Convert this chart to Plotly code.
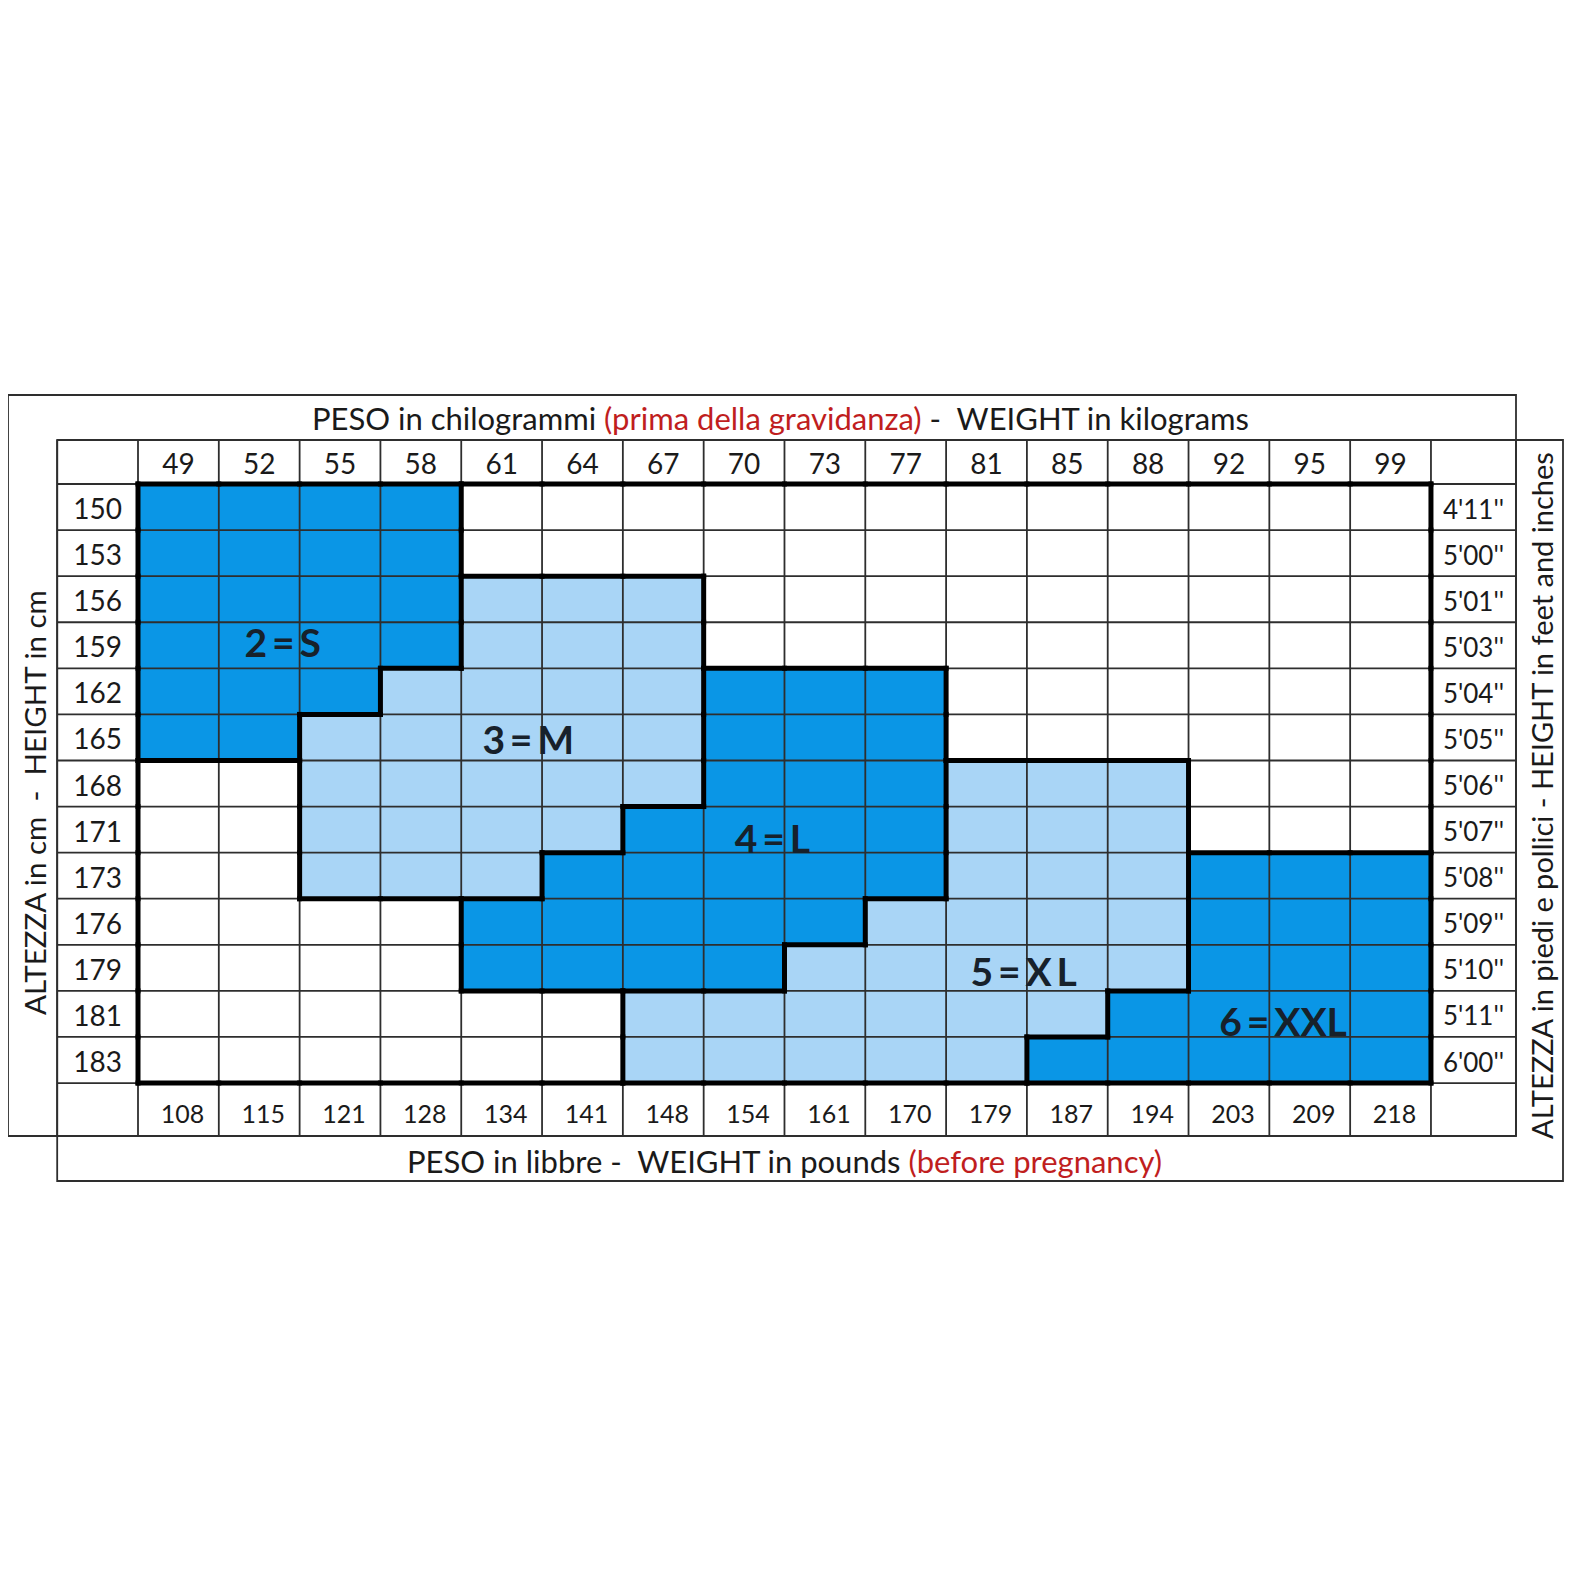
import plotly.graph_objects as go

# table data
peso_kg = [49, 52, 55, 58, 61, 64, 67, 70, 73, 77, 81, 85, 88, 92, 95, 99]
peso_lb = [108, 115, 121, 128, 134, 141, 148, 154, 161, 170, 179, 187, 194, 203, 209, 218]
altezza_cm = [150, 153, 156, 159, 162, 165, 168, 171, 173, 176, 179, 181, 183]
altezza_ft = ["4'11''", "5'00''", "5'01''", "5'03''", "5'04''", "5'05''", "5'06''",
              "5'07''", "5'08''", "5'09''", "5'10''", "5'11''", "6'00''"]

# size per cell (0 = none, 2=S, 3=M, 4=L, 5=XL, 6=XXL), one row per height
taglie = [
    [2, 2, 2, 2, 0, 0, 0, 0, 0, 0, 0, 0, 0, 0, 0, 0],
    [2, 2, 2, 2, 0, 0, 0, 0, 0, 0, 0, 0, 0, 0, 0, 0],
    [2, 2, 2, 2, 3, 3, 3, 0, 0, 0, 0, 0, 0, 0, 0, 0],
    [2, 2, 2, 2, 3, 3, 3, 0, 0, 0, 0, 0, 0, 0, 0, 0],
    [2, 2, 2, 3, 3, 3, 3, 4, 4, 4, 0, 0, 0, 0, 0, 0],
    [2, 2, 3, 3, 3, 3, 3, 4, 4, 4, 0, 0, 0, 0, 0, 0],
    [0, 0, 3, 3, 3, 3, 3, 4, 4, 4, 5, 5, 5, 0, 0, 0],
    [0, 0, 3, 3, 3, 3, 4, 4, 4, 4, 5, 5, 5, 0, 0, 0],
    [0, 0, 3, 3, 3, 4, 4, 4, 4, 4, 5, 5, 5, 6, 6, 6],
    [0, 0, 0, 0, 4, 4, 4, 4, 4, 5, 5, 5, 5, 6, 6, 6],
    [0, 0, 0, 0, 4, 4, 4, 4, 5, 5, 5, 5, 5, 6, 6, 6],
    [0, 0, 0, 0, 0, 0, 5, 5, 5, 5, 5, 5, 6, 6, 6, 6],
    [0, 0, 0, 0, 0, 0, 5, 5, 5, 5, 5, 6, 6, 6, 6, 6],
]
nomi_taglie = {2: "2\u2009=\u2009S", 3: "3\u2009=\u2009M", 4: "4\u2009=\u2009L",
               5: "5\u2009=\u2009X\u2009L", 6: "6\u2009=\u2009XXL"}
# where the size name sits (column, row in cell units)
pos_taglie = {2: (1.79, 3.46), 3: (4.83, 5.56), 4: (7.85, 7.7), 5: (10.96, 10.59), 6: (14.17, 11.68)}

DARK = '#0a96e6'
LIGHT = '#a9d5f6'
INK = '#1a1a1a'
RED = '#c01e1e'
FONT = 'Lato'

ncol = len(peso_kg)
nrow = len(altezza_cm)

# pixel mapping of the grid (screen px, page has an 8px body margin)
OFF = 8
W = H = 1575 - 2 * OFF
px_x0, cell_w = 138, 80.81
px_y0, cell_h = 484, 46.08
xr = [(OFF - px_x0) / cell_w, (W + OFF - px_x0) / cell_w]
yr = [(H + OFF - px_y0) / cell_h, (OFF - px_y0) / cell_h]
dy_txt = 5 / cell_h  # text sits a little low in its cell


def gx(px):
    return (px - px_x0) / cell_w


def gy(px):
    return (px - px_y0) / cell_h


x_right = gx(1516)
y_top = gy(440)
y_bot = gy(1136)

# shade: 0 white, 1 dark (even sizes), 2 light (odd sizes)
shade = [[0 if v == 0 else (1 if v % 2 == 0 else 2) for v in row] for row in taglie]

fig = go.Figure()
fig.add_trace(go.Heatmap(
    z=shade, x=[c + 0.5 for c in range(ncol)], y=[r + 0.5 for r in range(nrow)],
    colorscale=[[0, 'white'], [0.5, DARK], [1, LIGHT]], zmin=0, zmax=2,
    showscale=False, hoverinfo='skip'))

# thin table lines
tx, ty = [], []
for yv in [y_top] + list(range(nrow + 1)) + [y_bot]:
    tx += [-1, x_right, None]
    ty += [yv, yv, None]
for xv in [-1] + list(range(ncol + 1)) + [x_right]:
    tx += [xv, xv, None]
    ty += [y_top, y_bot, None]
fig.add_trace(go.Scatter(x=tx, y=ty, mode='lines', line=dict(color='#2e2e2e', width=1.8),
                         hoverinfo='skip', showlegend=False))


def size_at(r, c):
    if 0 <= r < nrow and 0 <= c < ncol:
        return taglie[r][c]
    return -1


# thick borders where the size changes
ex = 2.5 / cell_w
ey = 2.5 / cell_h
kx, ky = [], []
for r in range(nrow + 1):
    for c in range(ncol):
        if size_at(r - 1, c) != size_at(r, c):
            kx += [c - ex, c + 1 + ex, None]
            ky += [r, r, None]
for c in range(ncol + 1):
    for r in range(nrow):
        if size_at(r, c - 1) != size_at(r, c):
            kx += [c, c, None]
            ky += [r - ey, r + 1 + ey, None]
fig.add_trace(go.Scatter(x=kx, y=ky, mode='lines', line=dict(color='black', width=5),
                         hoverinfo='skip', showlegend=False))

# labels
fig.add_trace(go.Scatter(x=[c + 0.5 for c in range(ncol)], y=[y_top / 2 + dy_txt] * ncol,
                         text=[str(v) for v in peso_kg], mode='text',
                         textfont=dict(family=FONT, size=28, color=INK), hoverinfo='skip', showlegend=False))
fig.add_trace(go.Scatter(x=[c + 0.55 for c in range(ncol)], y=[(nrow + y_bot) / 2 + 1.4 * dy_txt] * ncol,
                         text=[str(v) for v in peso_lb], mode='text',
                         textfont=dict(family=FONT, size=25, color=INK), hoverinfo='skip', showlegend=False))
fig.add_trace(go.Scatter(x=[-0.5] * nrow, y=[r + 0.5 + dy_txt for r in range(nrow)],
                         text=[str(v) for v in altezza_cm], mode='text',
                         textfont=dict(family=FONT, size=28, color=INK), hoverinfo='skip', showlegend=False))
fig.add_trace(go.Scatter(x=[(ncol + x_right) / 2] * nrow, y=[r + 0.5 + dy_txt for r in range(nrow)],
                         text=altezza_ft, mode='text',
                         textfont=dict(family=FONT, size=26, color=INK), hoverinfo='skip', showlegend=False))

sx = [pos_taglie[k][0] for k in nomi_taglie]
sy = [pos_taglie[k][1] + dy_txt * 0.8 for k in nomi_taglie]
fig.add_trace(go.Scatter(x=sx, y=sy, text=['<b>%s</b>' % nomi_taglie[k] for k in nomi_taglie], mode='text',
                         textfont=dict(family=FONT, size=39, color='#17212b'), hoverinfo='skip', showlegend=False))

# outer frames
frame_a = dict(x0=gx(8), y0=gy(395), x1=x_right, y1=y_bot)
frame_b = dict(x0=-1, y0=y_top, x1=gx(1563), y1=gy(1181))
for fr in (frame_a, frame_b):
    fig.add_shape(type='rect', xref='x', yref='y', line=dict(color='#2e2e2e', width=1.8),
                  fillcolor='rgba(0,0,0,0)', **fr)

# titles
fig.add_annotation(x=gx(780), y=gy(418), xref='x', yref='y', showarrow=False,
                   text='PESO in chilogrammi <span style="color:%s">(prima della gravidanza)</span> -  WEIGHT in kilograms' % RED,
                   font=dict(family=FONT, size=31, color=INK))
fig.add_annotation(x=gx(784), y=gy(1161), xref='x', yref='y', showarrow=False,
                   text='PESO in libbre -  WEIGHT in pounds <span style="color:%s">(before pregnancy)</span>' % RED,
                   font=dict(family=FONT, size=31, color=INK))
fig.add_annotation(x=gx(34), y=gy(803), xref='x', yref='y', showarrow=False,
                   text='ALTEZZA in cm  -  HEIGHT in cm', textangle=-90,
                   font=dict(family=FONT, size=29.5, color=INK))
fig.add_annotation(x=gx(1541), y=gy(796), xref='x', yref='y', showarrow=False,
                   text='ALTEZZA in piedi e pollici - HEIGHT in feet and inches', textangle=-90,
                   font=dict(family=FONT, size=29, color=INK))

fig.update_xaxes(range=xr, visible=False, showgrid=False, zeroline=False)
fig.update_yaxes(range=yr, visible=False, showgrid=False, zeroline=False)
fig.update_layout(width=W, height=H, autosize=False, margin=dict(l=0, r=0, t=0, b=0),
                  plot_bgcolor='white', paper_bgcolor='white', showlegend=False)

fig.write_html("out.html")
